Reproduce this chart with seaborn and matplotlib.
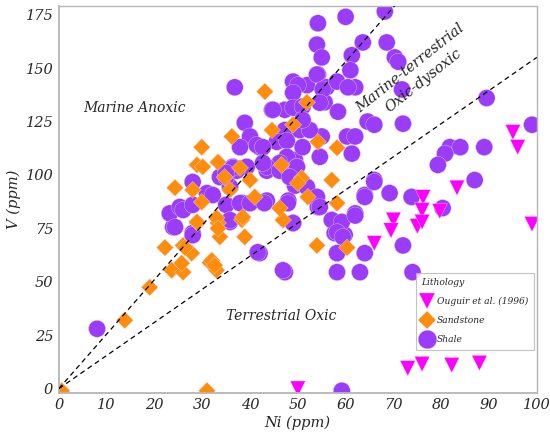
import matplotlib
matplotlib.use("Agg")
import matplotlib.pyplot as plt
import seaborn as sns
import numpy as np
import pandas as pd

# ---------------- data ----------------
shale_ni = [8, 54.2, 60, 68.2, 54, 55, 63.6, 61.3, 61, 68.6, 70.3, 71, 54.2, 49, 51.9, 54, 56, 58.2, 62, 60.5,
            55.6, 58.4, 71.8, 64.6, 66, 72, 89.5, 99, 47.3, 47.3, 55, 60.3, 62, 61.3, 81.8, 84, 80.8, 79.3,
            89, 87, 66, 64, 69.2, 73.8, 80.3, 49.4, 48, 49.4, 53, 54.2, 48, 62,
            47.3, 58.2, 63, 74, 58.2, 64, 72, 59.2, 57.7, 59.8, 49,
            42, 23.9, 28, 35.8,
            36.8, 44.6, 38.9, 40, 37.9, 42, 36.4, 39.3, 43.5, 28, 23.2, 25.3, 31, 33.7, 35.8, 38.5, 43.5,
            26, 28, 24.3, 28, 32.2, 35, 37.2, 35, 37.9, 40, 35.8, 41.6,
            50, 49, 44.8, 49, 51, 55.2, 41.4, 45.6, 47.7, 50.4, 52.5, 51, 47.7, 51, 54.6, 54.6, 49.8, 46.2,
            42.7, 43.5, 36.4, 35,
            42.7, 46.2, 49.8, 48.3, 51.9, 54, 54.6, 47.9, 43, 49, 57.1, 59.2, 62, 58.2, 59.4, 46.9, 66, 64]
shale_v = [28, 171, 174, 176.5, 161, 155, 162, 156, 149, 162, 155, 153, 147, 143.7, 142, 147, 141, 143.7, 141, 141,
           134, 129.6, 140, 125, 123.5, 124, 136, 123.5, 130.5, 121, 118, 118, 118, 110, 113, 113, 110, 104.7,
           113, 97.6, 97.6, 90.6, 91.5, 89.7, 84.5, 107, 101, 95, 90, 85, 88, 82,
           54.5, 54.5, 54.5, 54.5, 63.4, 63.4, 67, -1, 72.8, 72, 77.5,
           63.4, 75.6, 72.8, 78,
           141, 130.5, 124.4, 118, 113, 113, 103.8, 103.8, 102, 96.7, 82, 85, 91.5, 99, 94.4, 86.8, 88,
           83.6, 86, 75.6, 71.8, 90.6, 99, 102, 86, 86.8, 86.8, 78.9, 63.8,
           142, 138.5, 130.5, 131.5, 132, 140, 114, 115.5, 116, 121, 121, 125.8, 108.5, 113, 108.5, 133.8, 103.8, 105.6,
           113, 103.8, 103.3, 101,
           105.6, 102, 103.8, 99, 94.4, 89.7, 85, 86.8, 86.8, 77.5, 78.9, 78, 81, 73.2, 71, 55.4, 96.7, 89.7]

sand_ni = [0.6, 13.8, 19, 22.2, 23.6, 26, 26, 27.8, 29, 31.6, 33, 33.7, 33.3, 38.9, 31, 38.3,
           43.1, 36.2, 29.9, 28.9, 30.1, 33.3, 24.3, 28, 34.7, 37.9, 40, 41, 44.6,
           29.9, 28.9, 33, 33.3, 35.8, 38.5, 26.4, 32, 25.7, 32.6,
           51.9, 49, 54.2, 46.6, 50.8, 50, 52.1, 57.1, 58.2, 46.9, 46.2, 54, 60.3, 58.2]
sand_v = [-1, 32, 47.4, 66, 55.4, 54.5, 67, 63.4, 77.5, 59, 55.4, 71, 77.5, 71, -1, 79,
          139, 118, 113, 104.7, 103.8, 106, 94, 93, 99, 103.3, 97.6, 89.7, 121,
          87.3, 78, 80, 75, 93, 80.3, 66, 60, 58.7, 57.7,
          134, 123.5, 115.5, 104.7, 98.6, 96.2, 89.7, 97.6, 86.8, 78.9, 84.5, 67, 66, 112.7]

oug_ni = [95, 96, 83.3, 76.2, 76, 79.7, 70, 69.5, 66, 75, 76, 99, 73, 76, 82.2, 88, 50]
oug_v = [120, 113, 94, 89.5, 83.5, 83, 79, 74, 68, 76, 78, 77, 9.5, 11.5, 11, 12, 0]

groups = ["Ouguir et al. (1996)", "Sandstone", "Shale"]
upper_ratio = 2.55   # V/Ni boundary (marine anoxic / marine-terrestrial)
lower_ratio = 1.55   # V/Ni boundary (oxic-dysoxic / terrestrial oxic)

df = pd.concat([
    pd.DataFrame({"Ni": shale_ni, "V": shale_v, "Lithology": "Shale"}),
    pd.DataFrame({"Ni": sand_ni, "V": sand_v, "Lithology": "Sandstone"}),
    pd.DataFrame({"Ni": oug_ni, "V": oug_v, "Lithology": "Ouguir et al. (1996)"}),
], ignore_index=True)

# ---------------- style ----------------
sns.set_style("white")
plt.rcParams["font.family"] = ["DejaVu Serif"]
plt.rcParams["font.style"] = "italic"

fig = plt.figure(figsize=(5.5, 4.38), dpi=100)
ax = fig.add_axes([0.107, 0.103, 0.869, 0.883])

palette = {"Ouguir et al. (1996)": "#ff00ff", "Sandstone": "#ff8c0a", "Shale": "#9a3cf8"}
markers = {"Ouguir et al. (1996)": "v", "Sandstone": "D", "Shale": "o"}
sizes = {"Ouguir et al. (1996)": 120, "Sandstone": 75, "Shale": 150}

xs = np.array([0, 100])
ax.plot(xs, upper_ratio * xs, ls=(0, (4, 3)), color="black", lw=0.9, zorder=3)
ax.plot(xs, lower_ratio * xs, ls=(0, (4, 3)), color="black", lw=0.9, zorder=3)

sns.scatterplot(data=df, x="Ni", y="V", hue="Lithology", style="Lithology", size="Lithology",
                hue_order=groups, style_order=groups, size_order=groups,
                palette=palette, markers=markers, sizes=sizes,
                edgecolor="#e8dcff", linewidth=0.25, alpha=1, ax=ax, zorder=2)

ax.set_xlim(0, 100)
ax.set_ylim(-2, 179)
ax.set_xticks(np.arange(0, 101, 10))
ax.set_yticks(np.arange(0, 176, 25))
ax.tick_params(axis="both", length=0, labelsize=10.5, pad=4)
for lab in ax.get_xticklabels() + ax.get_yticklabels():
    lab.set_fontstyle("italic")
ax.set_xlabel("Ni (ppm)", fontsize=10.5, fontstyle="italic", labelpad=2)
ax.set_ylabel("V (ppm)", fontsize=10.5, fontstyle="italic", labelpad=3)

for s in ax.spines.values():
    s.set_color("#b5b5b5")
    s.set_linewidth(1.0)
ax.spines["left"].set_linewidth(1.3)
ax.spines["bottom"].set_linewidth(1.3)

ax.text(5, 131.5, "Marine Anoxic", fontsize=10, fontstyle="italic", va="center", ha="left")
ax.text(35, 34, "Terrestrial Oxic", fontsize=10, fontstyle="italic", va="center", ha="left")
ax.text(73.4, 150, "Marine-terrestrial", fontsize=10.5, fontstyle="italic", va="center", ha="center",
        rotation=38.5, rotation_mode="anchor")
ax.text(76.4, 144, "Oxic-dysoxic", fontsize=10.5, fontstyle="italic", va="center", ha="center",
        rotation=38.5, rotation_mode="anchor")

leg = ax.legend(title="Lithology", loc="lower right", bbox_to_anchor=(0.994, 0.111),
                borderaxespad=0, fontsize=6.6, title_fontsize=6.6, frameon=True, fancybox=False,
                borderpad=0.6, labelspacing=1.1, handlelength=1.2, handletextpad=0.55,
                markerscale=1.1, alignment="left")
leg.get_frame().set_edgecolor("#b5b5b5")
leg.get_frame().set_linewidth(0.8)
leg.get_title().set_fontstyle("italic")
for t in leg.get_texts():
    t.set_fontstyle("italic")

fig.savefig("out.png", dpi=100)
